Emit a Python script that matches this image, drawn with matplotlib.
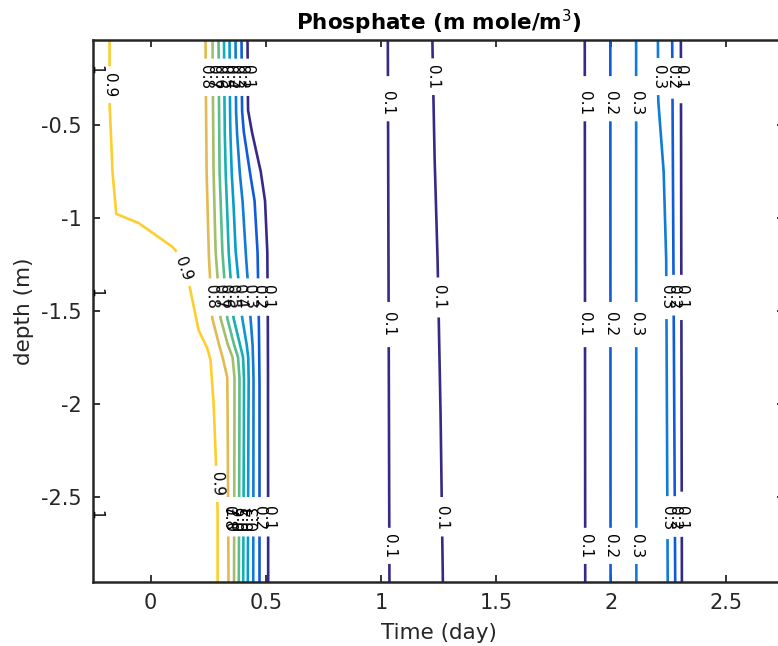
import numpy as np
import matplotlib
matplotlib.use("Agg")
import matplotlib.pyplot as plt
from matplotlib.colors import LinearSegmentedColormap

plt.rcParams['axes.unicode_minus'] = False
plt.rcParams['font.family'] = ['DejaVu Sans']

# ---------------- data ----------------
title = "Phosphate (m mole/m$^3$)"
xlabel = "Time (day)"
ylabel = "depth (m)"
xticks = [0, 0.5, 1, 1.5, 2, 2.5]
xticklabels = ["0", "0.5", "1", "1.5", "2", "2.5"]
yticks = [-2.5, -2, -1.5, -1, -0.5]
yticklabels = ["-2.5", "-2", "-1.5", "-1", "-0.5"]
xlim = (-0.25, 2.75)
ylim = (-2.957, -0.043)
clim = (0.1, 1.0)

# 0.9 contour (yellow)
z_09 = [-0.043, -0.382, -0.742, -0.978, -1.027, -1.154, -1.187, -1.366,
        -1.602, -1.699, -1.763, -1.978, -2.247, -2.570, -2.957]
t_09 = [-0.178, -0.178, -0.166, -0.149, -0.052, 0.094, 0.117, 0.169,
        0.208, 0.246, 0.260, 0.273, 0.282, 0.291, 0.291]

# first front (levels 0.8 ... 0.1) share depths
z_front = [-0.043, -0.419, -0.527, -0.742, -0.903, -1.172, -1.538, -1.672,
           -1.747, -1.855, -1.978, -2.957]
t_08 = [0.2386, 0.2408, 0.2416, 0.2430, 0.2464, 0.2516, 0.2677, 0.2950, 0.3124, 0.3328, 0.3341, 0.3384]
t_07 = [0.2690, 0.2711, 0.2716, 0.2733, 0.2768, 0.2820, 0.3037, 0.3328, 0.3557, 0.3644, 0.3644, 0.3623]
t_06 = [0.2950, 0.2972, 0.2976, 0.2993, 0.3037, 0.3111, 0.3328, 0.3601, 0.3796, 0.3861, 0.3861, 0.3831]
t_05 = [0.3189, 0.3210, 0.3219, 0.3254, 0.3310, 0.3384, 0.3601, 0.3861, 0.4013, 0.4056, 0.4056, 0.4022]
t_04 = [0.3427, 0.3449, 0.3462, 0.3514, 0.3592, 0.3688, 0.3978, 0.4165, 0.4239, 0.4260, 0.4252, 0.4221]
t_03 = [0.3688, 0.3709, 0.3744, 0.3861, 0.3991, 0.4121, 0.4338, 0.4425, 0.4447, 0.4469, 0.4469, 0.4456]
t_02 = [0.3948, 0.3970, 0.4035, 0.4295, 0.4512, 0.4642, 0.4699, 0.4712, 0.4720, 0.4729, 0.4729, 0.4729]
t_01 = [0.4208, 0.4230, 0.4382, 0.4772, 0.4967, 0.5067, 0.5089, 0.5093, 0.5093, 0.5098, 0.5098, 0.5106]

# isolated later contours
z_a = [-0.043, -2.957]
t_a = [1.030, 1.037]                      # 0.1
z_b = [-0.043, -0.635, -1.172, -1.978, -2.957]
t_b = [1.2234, 1.2321, 1.2451, 1.2581, 1.2690]   # 0.1
t_c = [1.885, 1.887]                      # 0.1
t_d = [1.996, 1.997]                      # 0.2
t_e = [2.108, 2.109]                      # 0.3
z_f = [-0.043, -0.366, -0.742, -1.226, -2.957]
t_f = [2.2026, 2.2039, 2.2273, 2.2386, 2.2451]   # 0.3
z_g = [-0.043, -1.5, -2.957]
t_g = [2.2646, 2.2711, 2.2777]            # 0.2
t_h = [2.3023, 2.3067]                    # 0.1

# label depths
lab_A = [-0.242, -1.425, -2.613]
lab_B = [-0.382, -1.570, -2.763]
lab_09 = [-0.285, -1.272, -2.430]
# level 1.0 contour lies just left of the axes; only its labels show
t_10_label = -0.239
lab_10 = [-0.204, -1.403, -2.597]

contours = [
    (0.9, t_09, z_09, lab_09),
    (0.8, t_08, z_front, lab_A),
    (0.7, t_07, z_front, lab_A),
    (0.6, t_06, z_front, lab_A),
    (0.5, t_05, z_front, lab_A),
    (0.4, t_04, z_front, lab_A),
    (0.3, t_03, z_front, lab_A),
    (0.2, t_02, z_front, lab_A),
    (0.1, t_01, z_front, lab_A),
    (0.1, t_a, z_a, lab_B),
    (0.1, t_b, z_b, lab_A),
    (0.1, t_c, z_a, lab_B),
    (0.2, t_d, z_a, lab_B),
    (0.3, t_e, z_a, lab_B),
    (0.3, t_f, z_f, lab_A),
    (0.2, t_g, z_g, lab_A),
    (0.1, t_h, z_a, lab_A),
]

# parula colormap
parula_rows = [
    (0.2081, 0.1663, 0.5292), (0.2081, 0.2386, 0.6771), (0.0591, 0.3598, 0.8683),
    (0.0117, 0.3875, 0.8820), (0.0329, 0.4430, 0.8720), (0.0779, 0.5040, 0.8384),
    (0.0488, 0.5772, 0.8228), (0.0231, 0.6418, 0.7913), (0.0590, 0.6838, 0.7254),
    (0.1801, 0.7177, 0.6424), (0.3482, 0.7424, 0.5473), (0.5300, 0.7491, 0.4661),
    (0.6834, 0.7435, 0.4044), (0.8185, 0.7327, 0.3498), (0.9450, 0.7261, 0.2886),
    (0.9938, 0.7455, 0.2403), (0.9955, 0.7861, 0.1967), (0.9626, 0.8705, 0.1309),
    (0.9763, 0.9831, 0.0538)]
parula_pos = [0, 3, 7, 8, 11, 15, 19, 23, 27, 31, 35, 39, 43, 47, 51, 53, 55, 59, 63]
parula = LinearSegmentedColormap.from_list(
    "parula", [(p / 63.0, c) for p, c in zip(parula_pos, parula_rows)])

# ---------------- figure ----------------
W, H = 778, 646
fig = plt.figure(figsize=(W / 100, H / 100), dpi=100)
ax = fig.add_axes([93 / W, 64 / H, 691 / W, 542 / H])
ax.set_xlim(*xlim)
ax.set_ylim(*ylim)

axcol = '#262626'
for sp in ax.spines.values():
    sp.set_color(axcol)
    sp.set_linewidth(1.8)
    sp.set_zorder(4)
ax.set_xticks(xticks)
ax.set_xticklabels(xticklabels)
ax.set_yticks(yticks)
ax.set_yticklabels(yticklabels)
ax.tick_params(direction='in', length=5, width=1.3, top=True, right=True,
               labelsize=15, colors=axcol, pad=8)
ax.set_xlabel(xlabel, fontsize=15.5, color=axcol, labelpad=7)
ax.set_ylabel(ylabel, fontsize=15.5, color=axcol, labelpad=5)
ax.set_title(title, fontsize=15.5, fontweight='bold', pad=7)

fig.canvas.draw()
trans = ax.transData


def densify(t, z, n=60):
    t = np.asarray(t, float)
    z = np.asarray(z, float)
    s = np.linspace(0, 1, n, endpoint=False)
    T = np.concatenate([t[i] + (t[i + 1] - t[i]) * s for i in range(len(t) - 1)] + [t[-1:]])
    Z = np.concatenate([z[i] + (z[i + 1] - z[i]) * s for i in range(len(z) - 1)] + [z[-1:]])
    return T, Z


gap_r = 18
lab_fs = 11
for lev, t, z, labs in contours:
    color = parula((lev - clim[0]) / (clim[1] - clim[0]))
    T, Z = densify(t, z)
    P = trans.transform(np.column_stack([T, Z]))
    mask = np.zeros(len(T), bool)
    for zl in labs:
        tl = np.interp(zl, Z[::-1], T[::-1])
        c = trans.transform((tl, zl))
        mask |= np.hypot(P[:, 0] - c[0], P[:, 1] - c[1]) < gap_r
        up = trans.transform((np.interp(zl + 0.03, Z[::-1], T[::-1]), zl + 0.03))
        lo = trans.transform((np.interp(zl - 0.03, Z[::-1], T[::-1]), zl - 0.03))
        ang = np.degrees(np.arctan2(lo[1] - up[1], lo[0] - up[0]))
        if ang < -90:
            ang += 180
        elif ang > 90:
            ang -= 180
        ax.text(tl, zl, f"{lev:g}", rotation=ang, rotation_mode='anchor',
                ha='center', va='center', fontsize=lab_fs, color='black',
                zorder=5, clip_on=False)
    Tm = np.where(mask, np.nan, T)
    ax.plot(Tm, Z, color=color, lw=1.9, solid_capstyle='butt', zorder=2)

for zl in lab_10:
    ax.text(t_10_label, zl, "1", rotation=-90, rotation_mode='anchor',
            ha='center', va='center', fontsize=lab_fs, color='black',
            zorder=5, clip_on=False)

fig.savefig("out.png", dpi=100)
